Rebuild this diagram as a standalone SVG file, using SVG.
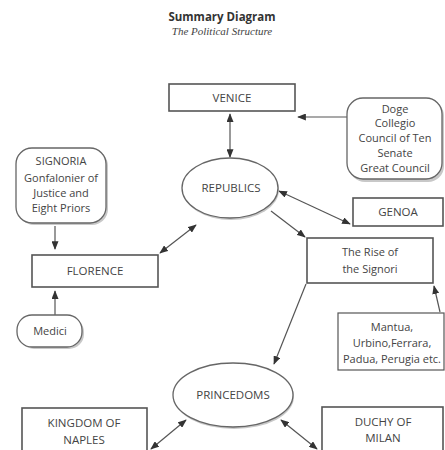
<svg xmlns="http://www.w3.org/2000/svg" width="445" height="450" viewBox="0 0 445 450">
<style>
.box{fill:#fff;stroke:#555;stroke-width:1.6}
.rbox{fill:#fff;stroke:#666;stroke-width:1.3}
.sh{fill:#c8c8c8}
.t{font-family:"Open Sans","Liberation Sans",sans-serif;font-size:11px;fill:#444;text-anchor:middle}
.cap{font-family:"Open Sans","Liberation Sans",sans-serif;font-size:11.5px;fill:#444;text-anchor:middle}
.ln{stroke:#555;stroke-width:1.2;fill:none}
</style>
<defs>
<marker id="ah" viewBox="0 0 10 8" refX="9" refY="4" markerWidth="9" markerHeight="7" markerUnits="userSpaceOnUse" orient="auto-start-reverse">
<path d="M0,0 L10,4 L0,8 z" fill="#333"/>
</marker>
</defs>
<rect width="445" height="450" fill="#fff"/>
<g id="title">
<text x="222" y="21" font-family="'Open Sans','Liberation Sans',sans-serif" font-weight="bold" font-size="11.5" fill="#333" text-anchor="middle">Summary Diagram</text>
<text x="222" y="35" font-family="'Liberation Serif',serif" font-style="italic" font-size="11" fill="#444" text-anchor="middle">The Political Structure</text>
</g>
<g id="connectors">
<line class="ln" x1="230" y1="114" x2="230" y2="157" marker-start="url(#ah)" marker-end="url(#ah)"/>
<line class="ln" x1="347" y1="117" x2="298" y2="117" marker-end="url(#ah)"/>
<line class="ln" x1="55" y1="226" x2="55" y2="249" marker-end="url(#ah)"/>
<line class="ln" x1="55" y1="315" x2="55" y2="291" marker-end="url(#ah)"/>
<line class="ln" x1="160" y1="253" x2="196" y2="225" marker-start="url(#ah)" marker-end="url(#ah)"/>
<line class="ln" x1="279" y1="191" x2="350" y2="224" marker-start="url(#ah)" marker-end="url(#ah)"/>
<line class="ln" x1="271" y1="211" x2="305" y2="237" marker-end="url(#ah)"/>
<line class="ln" x1="440" y1="312" x2="434" y2="286" marker-end="url(#ah)"/>
<line class="ln" x1="306" y1="284" x2="274" y2="364" marker-end="url(#ah)"/>
<line class="ln" x1="186" y1="420" x2="151" y2="449" marker-start="url(#ah)" marker-end="url(#ah)"/>
<line class="ln" x1="281" y1="420" x2="317" y2="449" marker-start="url(#ah)" marker-end="url(#ah)"/>
</g>
<g id="venice">
<rect class="box" x="169" y="84" width="126" height="27"/>
<text class="cap" x="232" y="102">VENICE</text>
</g>
<g id="doge">
<rect class="sh" x="349" y="100" width="95" height="82" rx="16"/>
<rect class="rbox" x="347" y="98" width="95" height="81" rx="16"/>
<text class="t" x="395" y="113">Doge</text>
<text class="t" x="395" y="127">Collegio</text>
<text class="t" x="395" y="142">Council of Ten</text>
<text class="t" x="395" y="157">Senate</text>
<text class="t" x="395" y="172">Great Council</text>
</g>
<g id="republics">
<ellipse class="sh" cx="231" cy="190" rx="48" ry="30"/>
<ellipse class="rbox" cx="230" cy="188" rx="48" ry="30"/>
<text class="cap" x="231" y="192">REPUBLICS</text>
</g>
<g id="signoria">
<rect class="sh" x="18" y="150" width="90" height="75" rx="16"/>
<rect class="rbox" x="16" y="148" width="90" height="75" rx="16"/>
<text class="t" x="61" y="165">SIGNORIA</text>
<text class="t" x="61" y="182">Gonfalonier of</text>
<text class="t" x="61" y="197">Justice and</text>
<text class="t" x="61" y="212">Eight Priors</text>
</g>
<g id="florence">
<rect class="box" x="32" y="255" width="126" height="32"/>
<text class="cap" x="95" y="275">FLORENCE</text>
</g>
<g id="medici">
<rect class="sh" x="19" y="317" width="65" height="32" rx="15"/>
<rect class="rbox" x="17" y="315" width="65" height="32" rx="15"/>
<text class="t" x="50" y="335">Medici</text>
</g>
<g id="genoa">
<rect class="box" x="353" y="198" width="90" height="28"/>
<text class="cap" x="398" y="216">GENOA</text>
</g>
<g id="rise">
<rect class="box" x="307" y="238" width="126" height="45"/>
<text class="t" x="370" y="256">The Rise of</text>
<text class="t" x="370" y="273">the Signori</text>
</g>
<g id="mantua">
<rect class="box" x="338" y="313" width="106" height="57" style="stroke-width:1.2"/>
<text class="t" x="392" y="331">Mantua,</text>
<text class="t" x="392" y="347">Urbino,Ferrara,</text>
<text class="t" x="392" y="363">Padua, Perugia etc.</text>
</g>
<g id="princedoms">
<ellipse class="sh" cx="234" cy="397" rx="60" ry="32"/>
<ellipse class="rbox" cx="233" cy="395" rx="60" ry="32"/>
<text class="cap" x="233" y="399">PRINCEDOMS</text>
</g>
<g id="naples">
<rect class="box" x="22" y="408" width="125" height="50"/>
<text class="cap" x="84" y="427">KINGDOM OF</text>
<text class="cap" x="84" y="444">NAPLES</text>
</g>
<g id="milan">
<rect class="box" x="322" y="407" width="121" height="50"/>
<text class="cap" x="383" y="426">DUCHY OF</text>
<text class="cap" x="383" y="442">MILAN</text>
</g>
</svg>
